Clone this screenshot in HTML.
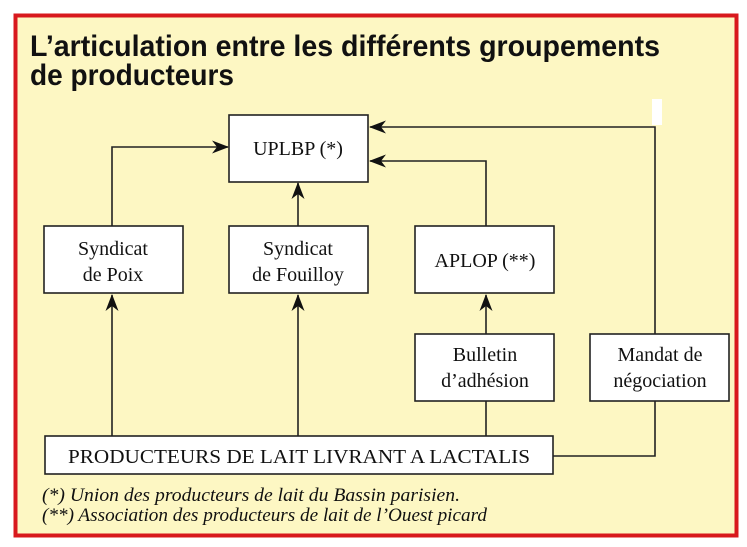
<!DOCTYPE html>
<html><head><meta charset="utf-8"><style>
html,body{margin:0;padding:0;background:#fff;}
svg{display:block;}
</style></head><body>
<svg width="747" height="547" viewBox="0 0 747 547" xmlns="http://www.w3.org/2000/svg">
<defs>
<marker id="a" markerWidth="17" markerHeight="13" refX="16" refY="6.5" orient="auto" markerUnits="userSpaceOnUse">
<path d="M0,0 L17,6.5 L0,13 L5,6.5 Z" fill="#111"/>
</marker>
</defs>
<rect x="0" y="0" width="747" height="547" fill="#fff"/>
<rect x="15.5" y="15.5" width="721" height="520" fill="#fdf7c3" stroke="#d8191d" stroke-width="4"/>
<g font-family="'Liberation Sans Narrow','Liberation Sans',sans-serif" font-weight="bold" font-size="30" fill="#111">
<text x="30" y="56" textLength="630" lengthAdjust="spacingAndGlyphs">L’articulation entre les différents groupements</text>
<text x="30" y="85" textLength="204" lengthAdjust="spacingAndGlyphs">de producteurs</text>
</g>
<rect x="652" y="99" width="10" height="26" fill="#fff"/>
<g stroke="#222" stroke-width="1.6" fill="none">
<polyline points="112,226 112,147 228,147" marker-end="url(#a)"/>
<line x1="298" y1="226" x2="298" y2="183" marker-end="url(#a)"/>
<polyline points="486,226 486,161 370,161" marker-end="url(#a)"/>
<polyline points="655,334 655,127 370,127" marker-end="url(#a)"/>
<line x1="112" y1="436" x2="112" y2="295" marker-end="url(#a)"/>
<line x1="298" y1="436" x2="298" y2="295" marker-end="url(#a)"/>
<line x1="486" y1="334" x2="486" y2="295" marker-end="url(#a)"/>
<line x1="486" y1="436" x2="486" y2="401"/>
<polyline points="553,456 655,456 655,401"/>
</g>
<g fill="#fff" stroke="#222" stroke-width="1.6">
<rect x="229" y="115" width="139" height="67"/>
<rect x="44" y="226" width="139" height="67"/>
<rect x="229" y="226" width="139" height="67"/>
<rect x="415" y="226" width="139" height="67"/>
<rect x="415" y="334" width="139" height="67"/>
<rect x="590" y="334" width="139" height="67"/>
<rect x="45" y="436" width="508" height="38"/>
</g>
<g font-family="'Liberation Serif',serif" font-size="20" fill="#111" text-anchor="middle">
<text x="298" y="155">UPLBP (*)</text>
<text x="113" y="255">Syndicat</text>
<text x="113" y="281">de Poix</text>
<text x="298" y="255">Syndicat</text>
<text x="298" y="281">de Fouilloy</text>
<text x="485" y="267">APLOP (**)</text>
<text x="485" y="361">Bulletin</text>
<text x="485" y="387">d’adhésion</text>
<text x="660" y="361">Mandat de</text>
<text x="660" y="387">négociation</text>
<text x="299" y="463" textLength="462" lengthAdjust="spacingAndGlyphs">PRODUCTEURS DE LAIT LIVRANT A LACTALIS</text>
</g>
<g font-family="'Liberation Serif',serif" font-style="italic" font-size="19" fill="#111">
<text x="42" y="501" textLength="418" lengthAdjust="spacingAndGlyphs">(*)  Union des producteurs de lait du Bassin parisien.</text>
<text x="42" y="521" textLength="445" lengthAdjust="spacingAndGlyphs">(**) Association des producteurs de lait de l’Ouest picard</text>
</g>
</svg>
</body></html>
